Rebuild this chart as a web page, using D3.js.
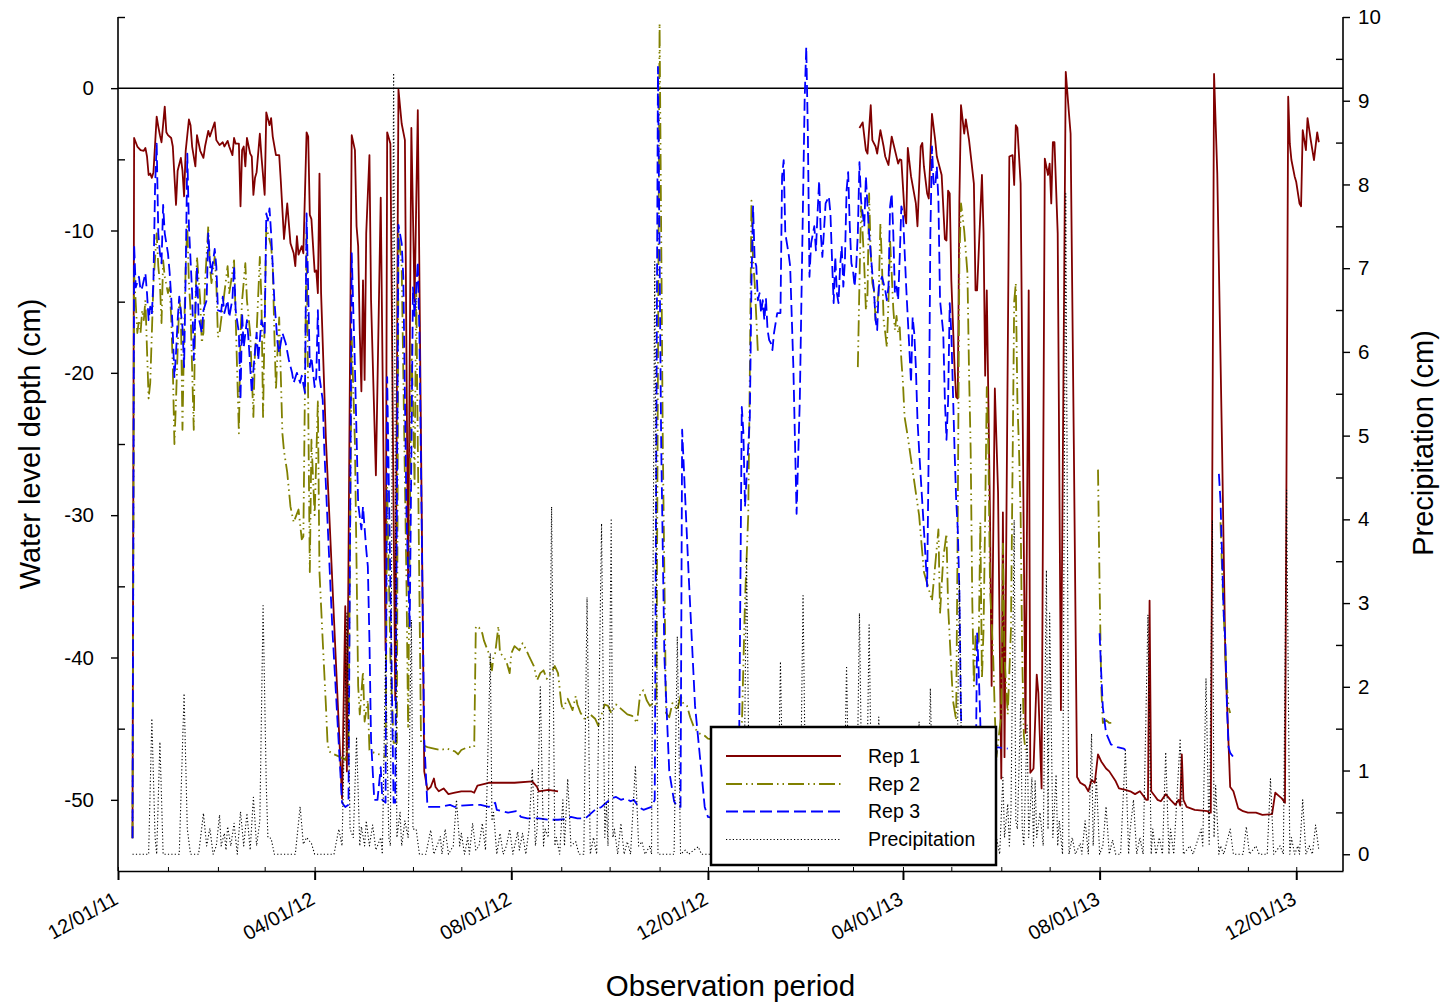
<!DOCTYPE html>
<html><head><meta charset="utf-8">
<script src="https://cdnjs.cloudflare.com/ajax/libs/d3/7.8.5/d3.min.js"></script>
<style>
body{margin:0;background:#fff}
text{font-family:"Liberation Sans",Arial,sans-serif;fill:#000}
</style>
</head><body>
<svg id="c" width="1445" height="1004"></svg>
<script>
// ---------- DATA (day = days since 12/01/2011) ----------
const startDate = Date.UTC(2011, 11, 1);
const endDate = Date.UTC(2013, 11, 30);
const tickDates = ["2011-12-01","2012-04-01","2012-08-01","2012-12-01","2013-04-01","2013-08-01","2013-12-01"];
const tickLabels = ["12/01/11","04/01/12","08/01/12","12/01/12","04/01/13","08/01/13","12/01/13"];
const depthTicks = [0,-10,-20,-30,-40,-50];
const depthMinor = [5,-5,-15,-25,-35,-45];
const precipTicks = [0,1,2,3,4,5,6,7,8,9,10];
const precipMinor = [0.5,1.5,2.5,3.5,4.5,5.5,6.5,7.5,8.5,9.5];
const seriesNames = ["Rep 1","Rep 2","Rep 3","Precipitation"];

const rep1 = [[9,-52.7],[10,-3.5],[12,-4.1],[14,-4.35],[16,-4.4],[17,-4.2],[18,-4.8],[19,-6.1],[20,-6.0],[21,-6.3],[22,-5.9],[24,-2.0],[25,-2.7],[26,-3.3],[27,-3.8],[29,-1.3],[30,-3.1],[31,-3.3],[33,-3.5],[34,-4.1],[36,-8.2],[37,-5.8],[39,-4.9],[40,-5.8],[41,-7.6],[42,-4.4],[44,-2.2],[45,-2.6],[46,-4.1],[48,-5.5],[49,-3.3],[51,-4.4],[53,-4.9],[54,-4.1],[56,-3.0],[57,-3.4],[60,-2.4],[61,-3.65],[63,-4.0],[65,-3.8],[66,-4.1],[68,-3.7],[69,-4.1],[71,-4.7],[72,-3.5],[73,-3.9],[75,-3.9],[76,-8.3],[77,-4.35],[78,-4.1],[79,-5.5],[80,-3.5],[82,-4.6],[83,-4.8],[84,-7.5],[85,-6.3],[86,-5.9],[88,-3.2],[89,-4.8],[91,-7.5],[92,-1.7],[94,-2.6],[95,-2.1],[96,-3.4],[98,-4.7],[100,-4.7],[101,-6.5],[103,-10.6],[105,-8.1],[107,-10.9],[109,-11.6],[110,-12.5],[111,-10.4],[112,-11.7],[114,-11.1],[115,-11.6],[117,-3.1],[118,-3.4],[119,-8.9],[120,-9.2],[122,-12.9],[123,-12.8],[124,-14.4],[125,-6.0],[126,-14.4],[129,-24.7],[139,-49.9],[141,-36.4],[142,-48],[145,-3.3],[147,-4.35],[148,-9.7],[149,-11.1],[150,-17.2],[151,-21.3],[152,-13.5],[153,-20.5],[154,-10.2],[156,-4.7],[157,-14.9],[160,-27.2],[163,-7.7],[166,-39.5],[167,-3.1],[169,-3.9],[172,-43],[174,-0.1],[176,-2.5],[178,-3.65],[180,-35],[182,-2.8],[184,-15],[186,-1.55],[190,-48],[192,-49.3],[194,-49.1],[196,-48.5],[197,-49.1],[199,-49.4],[202,-49.2],[205,-49.6],[209,-49.5],[213,-49.4],[219,-49.4],[221,-49.5],[223,-49.0],[230,-48.8],[246,-48.8],[257,-48.7],[260,-49.1],[261,-49.4],[267,-49.3],[273,-49.4],[274,null],
[460,-2.8],[462,-2.4],[464,-4.35],[465,-4.6],[467,-1.2],[468,-3.65],[470,-4.1],[471,-4.6],[473,-2.95],[475,-4.1],[476,-4.8],[478,-5.4],[480,-3.4],[482,-4.35],[484,-5.3],[485,-5.0],[486,-5.05],[488,-8.8],[489,-9.5],[490,-4.2],[492,-6.2],[495,-8.1],[496,-9.7],[498,-4.1],[499,-3.85],[500,-5.5],[502,-7.4],[503,-7.75],[505,-1.8],[507,-3.65],[508,-4.8],[511,-6.1],[513,-10.6],[514,-10.7],[515,-7.2],[516,-7.4],[517,-13.5],[519,-19.6],[520,-21.7],[521,-21.8],[522,-7.9],[523,-1.2],[525,-3.2],[526,-2.2],[528,-3.65],[531,-6.7],[532,-14.2],[533,-14.2],[536,-6.1],[537,-10.2],[538,-20.2],[539,-14.2],[541,-30],[542,-42],[544,-21.1],[546,-28.4],[548,-48.5],[549,-29.8],[550,-47],[553,-4.8],[555,-4.7],[556,-6.8],[557,-2.6],[558,-2.8],[560,-6.7],[563,-45.3],[565,-14.2],[566,-48.1],[568,-47.8],[570,-41.2],[571,-42.5],[573,-49.2],[575,-4.95],[577,-6.1],[578,-5.3],[579,-8.1],[580,-3.8],[581,-3.8],[583,-10.2],[585,-43.7],[588,1.15],[590,-1.8],[591,-3.2],[593,-25],[595,-48.4],[597,-48.8],[600,-49],[602,-49.4],[604,-48.6],[606,-48.8],[608,-46.8],[610,-47.3],[613,-47.8],[615,-48],[619,-48.7],[621,-49.2],[625,-49.3],[628,-49.4],[631,-49.6],[634,-49.4],[638,-50],[639,-50],[640,-36],[641,-49.4],[643,-49.7],[645,-50],[647,-50.1],[650,-49.6],[653,-50],[656,-50.35],[658,-50],[659,-50.4],[660,-46.8],[661,-50],[663,-50.5],[668,-50.7],[676,-50.8],[677,-50.9],[678,-50.9],[680,1.0],[682,-6.0],[685,-25.4],[687,-40],[690,-49.1],[692,-49.4],[695,-50.6],[698,-50.8],[701,-50.9],[706,-50.9],[710,-51.05],[716,-51],[718,-49.5],[720,-49.7],[722,-49.9],[724,-50.2],[726,-0.6],[727,-3.9],[728,-5.05],[730,-6.2],[731,-6.6],[733,-8.1],[734,-8.3],[735,-2.95],[737,-4.35],[738,-2.1],[740,-3.65],[742,-5.05],[744,-3.1],[745,-3.8]];

const rep2 = [[9,-52.7],[10,-13],[12,-17.2],[13,-16.3],[14,-17.2],[15,-15.6],[16,-16.3],[17,-14.9],[18,-18.4],[19,-21.8],[20,-20.7],[21,-17.2],[22,-13.7],[24,-10.2],[25,-12.5],[26,-13.7],[27,-16.5],[28,-12.1],[29,-13.25],[31,-14.4],[32,-14],[33,-16.1],[34,-19.6],[35,-25],[36,-21.9],[37,-18.4],[38,-14.9],[39,-15.6],[40,-24],[41,-17.2],[42,-12.5],[43,-9.7],[44,-13.7],[45,-15.6],[47,-24],[48,-14.9],[49,-11.85],[51,-14.9],[52,-17.9],[53,-17.2],[54,-13.7],[56,-9.7],[57,-12.5],[58,-13.7],[60,-11.85],[61,-13.7],[62,-17.5],[63,-17.2],[65,-15.35],[66,-14.4],[68,-12.5],[69,-14.4],[70,-13.7],[72,-12.1],[73,-16.1],[75,-24.25],[76,-17.2],[77,-14.9],[79,-12.3],[80,-14.9],[82,-17.2],[84,-23.1],[85,-18.4],[86,-17.2],[88,-11.85],[89,-14.9],[90,-23.1],[91,-16.1],[92,-9.7],[93,-10.2],[95,-11.1],[96,-12.5],[97,-17.2],[98,-21.2],[99,-18.4],[100,-16.1],[102,-24.25],[103,-25.5],[105,-27],[107,-29.4],[109,-30.5],[112,-29.6],[114,-31.7],[115,-31.5],[117,-10.2],[118,-22],[119,-34],[120,-24.7],[122,-30],[124,-22],[125,-34],[127,-38.8],[129,-43.4],[130,-46],[131,-46.6],[134,-46.8],[138,-47],[141,-47.2],[143,-46],[145,-17.5],[147,-25],[149,-42],[150,-44],[152,-41],[153,-44.5],[155,-43],[156,-46.5],[159,-46.7],[162,-46.8],[165,-46.9],[166,-47],[167,-28],[169,-40],[171,-46],[173,-46],[174,-10],[176,-12.5],[177,-20],[179,-35],[180,-45],[182,-18],[183,-22],[184,-28],[185,-14],[186,-25],[188,-46],[190,-46.2],[192,-46.3],[196,-46.4],[200,-46.5],[204,-46.4],[209,-46.6],[211,-46.8],[213,-46.5],[217,-46.3],[221,-46.3],[222,-37.8],[224,-37.9],[226,-38.3],[227,-38.8],[230,-39.7],[232,-40.9],[233,-39.9],[234,-39.7],[236,-37.8],[237,-39.7],[239,-39.9],[241,-40.3],[243,-41.1],[244,-39.7],[246,-39.2],[249,-39.5],[251,-39],[253,-39.4],[255,-39.9],[258,-40.6],[260,-41.6],[262,-41.1],[264,-40.9],[266,-41.5],[269,-41],[271,-40.6],[273,-41.1],[275,-43.2],[276,-43.7],[278,-43.1],[279,-42.9],[282,-43.7],[284,-42.7],[285,-43.3],[287,-43.9],[290,-44.4],[293,-44],[296,-44.3],[298,-44.8],[300,-44],[302,-43.3],[304,-43.4],[306,-43.9],[309,-43.3],[313,-43.7],[316,-44],[319,-44.1],[322,-44.6],[324,-42.5],[326,-42.3],[328,-43],[330,-43.4],[332,-43.2],[334,-43.5],[336,4.55],[338,-25],[340,-43.9],[342,-44.2],[344,-43.2],[347,-43.7],[349,-42.7],[351,-43.3],[353,-43.4],[355,-44.2],[357,-44.8],[360,-45.3],[364,-45.5],[366,-45.7],[380,-46],[385,-46],[387,-45],[389,-36],[391,-30],[392,-20],[393,-7.9],[394,-12.1],[395,-13.7],[396,-16.1],[397,-18.6],[398,null],
[459,-19.6],[460,-13.7],[461,-8.3],[462,-10.2],[463,-12.5],[464,-15.6],[465,-14.5],[466,-7.4],[467,-11.6],[468,-13.7],[469,-14.2],[470,-16.3],[472,-14.2],[473,-9.5],[474,-12.5],[475,-16.3],[476,-17.2],[477,-18.2],[478,-15],[479,-10.7],[480,-13],[481,-15.5],[482,-17],[483,-16],[484,-17.2],[485,-16.8],[486,-19.1],[487,-20.7],[488,-23.1],[489,-23.8],[490,-24.5],[497,-30],[500,-34],[505,-36],[509,-31],[510,-36.9],[512,-33],[514,-31.3],[515,-36.4],[518,-43],[520,-44.4],[521,-30],[522,-12],[523,-8.1],[524,-9],[525,-10],[526,-11.5],[527,-13],[528,-20],[529,-25.4],[530,-36],[531,-42],[532,-38.5],[533,-39.3],[534,-39],[535,-30.5],[536,-41.5],[537,-38],[538,-30],[539,-21],[540,-25.4],[541,-35],[543,-40],[544,-44],[545,-47],[546,-46],[548,-44],[549,-32],[550,-40],[552,-44],[554,-38],[556,-15],[557,-13.7],[558,-22],[559,-25.4],[560,-30],[561,-40],[562,-45.5],[563,-46.5],[564,null],
[608,-26.8],[609,-35],[610,-42],[611,-44.6],[613,-44.4],[615,-44.6],[618,-44.6],[619,null],
[684,-30.5],[685,-34],[686,-37],[687,-39.5],[688,-42],[689,-43.5],[690,-43.9]];

const rep3 = [[9,-52.7],[10,-11.0],[11,-14],[13,-13.25],[14,-14.2],[15,-14.0],[17,-13],[18,-14.4],[19,-16.3],[20,-15.35],[21,-15.9],[22,-13.5],[23,-6.9],[24,-3.9],[25,-10.2],[26,-11.6],[27,-12.3],[28,-8.2],[29,-10.2],[31,-11.6],[32,-12.9],[33,-14.65],[34,-17.2],[35,-20.3],[36,-18.6],[37,-16.3],[38,-14.65],[40,-16.8],[41,-19.6],[42,-12.9],[43,-4.6],[44,-9.7],[46,-14.4],[47,-19.1],[48,-15.8],[49,-12.5],[50,-16.1],[52,-17.2],[53,-15.6],[55,-14.9],[56,-10.2],[57,-12.1],[58,-13],[60,-11.3],[61,-12.5],[62,-15.6],[64,-15.7],[65,-14.65],[66,-15.8],[68,-14.9],[69,-16.1],[71,-14.8],[72,-12.5],[73,-15.6],[75,-17.2],[76,-21.9],[77,-15.8],[78,-18.2],[80,-16.3],[81,-17.7],[83,-21.4],[84,-19.8],[86,-17.2],[87,-19.1],[89,-16.3],[91,-17.2],[92,-8.8],[93,-9.3],[94,-8.45],[95,-10.2],[96,-12.5],[97,-14.9],[99,-17.9],[100,-18.6],[102,-17.2],[104,-17.9],[106,-19.1],[108,-20.0],[109,-20.7],[111,-20.0],[113,-20.7],[114,-20.2],[116,-21.4],[117,-8.8],[118,-14.2],[119,-19.6],[120,-18.9],[122,-21],[123,-20.3],[124,-15.6],[125,-20.3],[127,-21.9],[128,-25.4],[131,-33],[133,-38],[139,-50.2],[141,-50.5],[143,-50.35],[145,-11.6],[147,-19.6],[149,-29.2],[151,-31],[152,-29.4],[154,-32.4],[155,-33.6],[156,-38.8],[157,-45.8],[159,-50],[161,-50],[163,-47.7],[164,-50],[166,-50.2],[167,-20.3],[169,-35],[171,-50.2],[172,-50.2],[174,-9.6],[176,-10.9],[177,-13.25],[179,-30],[181,-37.8],[183,-14],[184,-16],[186,-12.2],[187,-17.2],[190,-45.8],[192,-50.5],[196,-50.5],[200,-50.5],[206,-50.35],[209,-50.5],[213,-50.4],[221,-50.35],[225,-50.35],[230,-50.5],[234,-50.2],[235,-50.7],[242,-50.9],[247,-50.8],[250,-51.2],[254,-51.3],[261,-51.3],[267,-51.4],[273,-51.4],[277,-51.35],[281,-51.2],[285,-51.3],[290,-51.3],[296,-50.7],[300,-50.5],[306,-49.9],[309,-49.8],[312,-50.0],[315,-49.9],[318,-50.1],[320,-50.0],[323,-50.5],[326,-50.7],[331,-50.5],[333,-50],[335,1.5],[337,-25],[339,-40],[342,-48],[345,-50.1],[347,-50.5],[349,-50.5],[350,-24.0],[354,-34.1],[358,-43.4],[362,-48.1],[364,-50.5],[366,-51.2],[370,-51.3],[385,-51.3],[387,-22.4],[388,-24.2],[389,-29.4],[392,-23.1],[393,-13.7],[394,-8.3],[395,-12.1],[396,-12.5],[397,-14.9],[398,-14.4],[399,-15.8],[400,-14.9],[401,-16.3],[402,-14.8],[403,-17],[404,-17.7],[405,-17.9],[406,-18.4],[407,-17.2],[409,-15.8],[411,-15.8],[412,-6.2],[413,-5.05],[414,-10.2],[416,-11.6],[417,-12.5],[419,-19.6],[421,-29.9],[423,-21.9],[424,-14.9],[425,-7.9],[426,-0.85],[427,2.9],[428,-3.2],[429,-13.25],[430,-10.9],[432,-9.7],[433,-11.4],[434,-8.8],[435,-6.5],[436,-10.2],[437,-11.85],[438,-10],[439,-8.1],[441,-7.6],[442,-8.8],[443,-12.1],[444,-15.1],[445,-11.85],[446,-14.4],[447,-15.1],[448,-12.5],[449,-11.1],[450,-13.95],[451,-12.1],[452,-7.2],[453,-5.9],[454,-9.7],[455,-12.3],[456,-12.8],[457,-13.95],[458,-12.5],[459,-10.2],[460,-5.2],[461,-7.9],[463,-9.7],[464,-6.2],[465,-8.3],[466,-10.2],[467,-11.6],[468,-13],[469,-14.2],[470,-16.3],[471,-17],[472,-13.95],[474,-13.25],[476,-14.2],[477,-14.9],[478,-13.95],[479,-8.3],[480,-7.4],[481,-10.2],[482,-14.4],[483,-13.95],[484,-14.9],[485,-11.85],[486,-8.3],[487,-8.8],[489,-13.95],[491,-18.4],[492,-20.7],[493,-16.1],[494,-17.2],[495,-19.6],[496,-23.3],[497,-25.4],[500,-31],[502,-35],[503,-25],[504,-10.2],[505,-4.1],[506,-6.7],[507,-6.9],[508,-5.5],[509,-7.9],[510,-14.9],[512,-17.2],[513,-21.9],[514,-24.7],[515,-22],[516,-15.1],[517,-17.2],[519,-25.4],[520,-28.9],[521,-31],[522,-35.3],[523,-44],[525,-51],[532,-50],[533,-38.3],[534,-41],[535,-44.6],[536,-51],[544,-51],[545,-46.3],[552,-46.4],[553,null],
[609,-38.3],[610,-41.1],[611,-43.5],[613,-45.3],[616,-46.1],[620,-46.3],[624,-46.4],[625,-46.5],[626,null],
[683,-27.1],[684,-29],[685,-33],[686,-37],[687,-38.8],[688,-43.4],[689,-46.3],[690,-46.7],[692,-47],[694,-47.1]];

const precip = [[9,0],[19,0],[21,1.62],[23,0.2],[24,0],[26,1.34],[28,0],[38,0],[41,1.92],[43,0.3],[45,0],[50,0],[53,0.49],[55,0.1],[57,0.31],[59,0],[61,0.1],[63,0.47],[64,0.1],[66,0.25],[67,0.05],[68,0.33],[70,0.1],[72,0.37],[74,0],[76,0.51],[78,0.1],[80,0.49],[82,0.05],[84,0.68],[86,0.1],[88,0.4],[90,2.97],[92,0.82],[93,0.2],[95,0.19],[97,0],[104,0],[110,0],[113,0.57],[115,0.12],[117,0.2],[120,0.13],[122,0],[130,0],[134,0],[137,0.3],[139,0.1],[142,2.88],[144,0.3],[146,0.2],[148,1.4],[150,0.1],[151,0.33],[153,0.1],[154,0.4],[156,0.1],[158,0.35],[160,0.05],[163,0.2],[164,0],[166,2.4],[168,0.2],[169,0.1],[171,9.33],[173,0.2],[175,0.5],[176,0.1],[178,0.4],[180,0.2],[182,2.8],[183,0.3],[185,0.3],[187,0],[191,0],[194,0.29],[196,0],[200,0.21],[201,0],[203,0.3],[205,0],[208,0.1],[210,0.65],[212,0.1],[213,0.25],[215,0],[217,0.2],[218,0],[220,0.37],[222,0.05],[224,0.1],[226,0.37],[228,0.05],[231,2.4],[232,0.4],[233,0.5],[235,0],[237,0.25],[239,0],[241,0.1],[243,0.3],[245,0],[248,0.27],[249,0.05],[251,0.25],[253,0],[255,0.3],[257,1.02],[259,0.1],[260,0.3],[262,2.0],[264,0.1],[265,0.3],[267,0.2],[269,4.15],[271,0.1],[272,0.2],[274,0],[276,0.65],[277,0.1],[279,0.9],[281,0.1],[284,0.15],[286,0],[289,0],[291,3.07],[293,0],[295,0.2],[297,0],[300,3.95],[302,0.2],[303,0.6],[304,0.1],[306,4.01],[307,0.2],[308,0.3],[310,0],[312,0.37],[314,0],[316,0.15],[318,0],[321,1.06],[323,0.1],[325,0.15],[327,0],[330,0.1],[331,0],[333,7.08],[335,0],[340,0],[345,0],[347,2.6],[349,0],[352,0.05],[354,0],[360,0.09],[362,0],[388,0],[390,3.55],[392,0],[409,0],[411,2.3],[413,0],[423,0],[425,3.09],[427,0],[450,0],[452,2.25],[454,0],[458,0],[460,2.88],[462,0],[464,0],[466,2.74],[468,0],[470,0],[472,1.64],[474,0],[495,0],[497,1.58],[499,0],[502,0],[504,1.98],[506,0],[520,0],[522,3.27],[524,0],[530,0.5],[535,0.3],[540,0.8],[545,0.2],[547,0],[549,0.92],[550,0.2],[552,0.6],[553,0.1],[554,0.5],[556,3.99],[557,0.4],[558,0.3],[560,1.8],[561,0.3],[562,0.1],[564,1.56],[565,0.2],[567,0.92],[568,0.1],[569,0.88],[570,0.2],[572,0.5],[574,0.1],[576,3.39],[577,0.3],[578,2.88],[580,0.2],[582,0.95],[583,0.1],[584,0.4],[586,0],[588,7.89],[590,0],[592,0.2],[594,0],[597,0.13],[598,0],[600,0.4],[602,0],[604,1.44],[605,0.1],[607,0.92],[609,0],[611,0.1],[613,0.57],[615,0],[617,0.17],[619,0],[622,0],[625,1.24],[627,0],[628,0.3],[630,0.65],[632,0],[634,0.2],[636,0],[639,2.86],[641,0],[642,0.3],[644,0],[646,0.2],[648,0],[650,1.22],[652,0],[653,0.3],[655,0],[659,1.38],[661,0],[665,0.1],[667,0],[672,0.3],[673,0.1],[675,2.1],[677,0.1],[679,3.99],[680,0.2],[681,0.82],[683,0],[684,0.1],[686,0],[690,0.3],[692,0],[698,0],[700,0.33],[702,0],[706,0.1],[708,0],[713,0],[715,0.9],[717,0],[721,0.1],[723,0],[725,4.35],[727,0],[728,0.2],[730,0],[732,0.1],[733,0],[735,0.65],[737,0],[739,0.1],[741,0],[743,0.35],[745,0.05]];

// ---------- CHART ----------
const FONT = "'Liberation Sans', Arial, sans-serif";
const svg = d3.select("#c");
const L = 118, R = 1343, T = 17, B = 871;
const dayToDate = d => new Date(startDate + d * 86400000);
const x = d3.scaleUtc().domain([new Date(startDate), new Date(endDate)]).range([L, R]);
const yL = d3.scaleLinear().domain([-55, 5]).range([B, T]);
const yR = d3.scaleLinear().domain([-0.2, 10]).range([B, T]);

svg.append("rect").attr("width",1445).attr("height",1004).attr("fill","#fff");

const styles = [
  {data: rep1, color:"#800000", width:1.8, dash:null, scale:yL},
  {data: rep2, color:"#808000", width:1.8, dash:"16,4,1.5,4,1.5,4", scale:yL},
  {data: rep3, color:"#0000ff", width:1.8, dash:"12,5", scale:yL},
  {data: precip, color:"#000", width:1.1, dash:"1.2,2.2", scale:yR}
];

svg.append("line").attr("x1",L).attr("x2",R).attr("y1",yL(0)).attr("y2",yL(0))
  .attr("stroke","#000").attr("stroke-width",1.5);

styles.forEach(s => {
  const line = d3.line()
    .defined(d => d[1] !== null)
    .x(d => x(dayToDate(d[0])))
    .y(d => s.scale(d[1]));
  svg.append("path").datum(s.data)
    .attr("fill","none").attr("stroke",s.color).attr("stroke-width",s.width)
    .attr("stroke-dasharray",s.dash).attr("stroke-linejoin","round")
    .attr("d",line);
});

const parse = d3.utcParse("%Y-%m-%d");
const majors = tickDates.map(parse);
const months = d3.utcMonth.range(new Date(startDate), new Date(endDate));

function styleAxis(g, fs){
  g.selectAll("path.domain").attr("stroke","#000").attr("stroke-width",1.6);
  g.selectAll(".tick line").attr("stroke","#000").attr("stroke-width",1.4);
  g.selectAll("text").style("font-family",FONT).style("font-size",fs+"px").attr("fill","#000");
}

const gxMinor = svg.append("g").attr("transform",`translate(0,${B})`)
  .call(d3.axisBottom(x).tickValues(months).tickSize(-4).tickSizeOuter(0).tickFormat(""));
gxMinor.select("path.domain").remove();
gxMinor.selectAll(".tick line").attr("stroke","#000").attr("stroke-width",1);

const gx = svg.append("g").attr("transform",`translate(0,${B})`)
  .call(d3.axisBottom(x).tickValues(majors).tickSize(9).tickSizeOuter(0)
    .tickFormat((d,i) => tickLabels[i]));
styleAxis(gx, 20);
gx.selectAll(".tick line").attr("stroke-width",2);
gx.selectAll("text").attr("text-anchor","end").attr("x",0).attr("y",0).attr("dy",0)
  .attr("transform","translate(1,32) rotate(-29)");

const gyMinor = svg.append("g").attr("transform",`translate(${L},0)`)
  .call(d3.axisLeft(yL).tickValues(depthMinor).tickSize(-7).tickSizeOuter(0).tickFormat(""));
gyMinor.select("path.domain").remove();
gyMinor.selectAll(".tick line").attr("stroke","#000").attr("stroke-width",1.4);
const gy = svg.append("g").attr("transform",`translate(${L},0)`)
  .call(d3.axisLeft(yL).tickValues(depthTicks).tickSize(7).tickSizeOuter(0).tickPadding(17));
styleAxis(gy, 20.5);
gy.selectAll("text").text(d => String(d));

const grMinor = svg.append("g").attr("transform",`translate(${R},0)`)
  .call(d3.axisRight(yR).tickValues(precipMinor).tickSize(-7).tickSizeOuter(0).tickFormat(""));
grMinor.select("path.domain").remove();
grMinor.selectAll(".tick line").attr("stroke","#000").attr("stroke-width",1.4);
const gr = svg.append("g").attr("transform",`translate(${R},0)`)
  .call(d3.axisRight(yR).tickValues(precipTicks).tickSize(7).tickSizeOuter(0).tickPadding(8));
styleAxis(gr, 20.5);
gr.select("path.domain").attr("d",`M0,${T}V${B}`);
gy.select("path.domain").attr("d",`M0,${T}V${B}`);

svg.append("text").attr("transform",`translate(40,${(T+B)/2}) rotate(-90)`)
  .attr("text-anchor","middle").style("font-size","29px").text("Water level depth (cm)");
svg.append("text").attr("transform",`translate(1433,${(T+B)/2 - 1}) rotate(-90)`)
  .attr("text-anchor","middle").style("font-size","29px").text("Precipitation (cm)");
svg.append("text").attr("x",(L+R)/2).attr("y",996)
  .attr("text-anchor","middle").style("font-size","29.5px").text("Observation period");

const lg = svg.append("g");
lg.append("rect").attr("x",711).attr("y",727).attr("width",285).attr("height",138)
  .attr("fill","#fff").attr("stroke","#000").attr("stroke-width",2.5);
const rowY = [756, 784, 811.5, 839.5];
styles.forEach((s,i) => {
  lg.append("line").attr("x1",726).attr("x2",841).attr("y1",rowY[i]).attr("y2",rowY[i])
    .attr("stroke",s.color).attr("stroke-width",s.width).attr("stroke-dasharray",s.dash);
  lg.append("text").attr("x",868).attr("y",rowY[i]).attr("dy","0.35em")
    .style("font-size","19.5px").text(seriesNames[i]);
});
</script>
</body></html>
